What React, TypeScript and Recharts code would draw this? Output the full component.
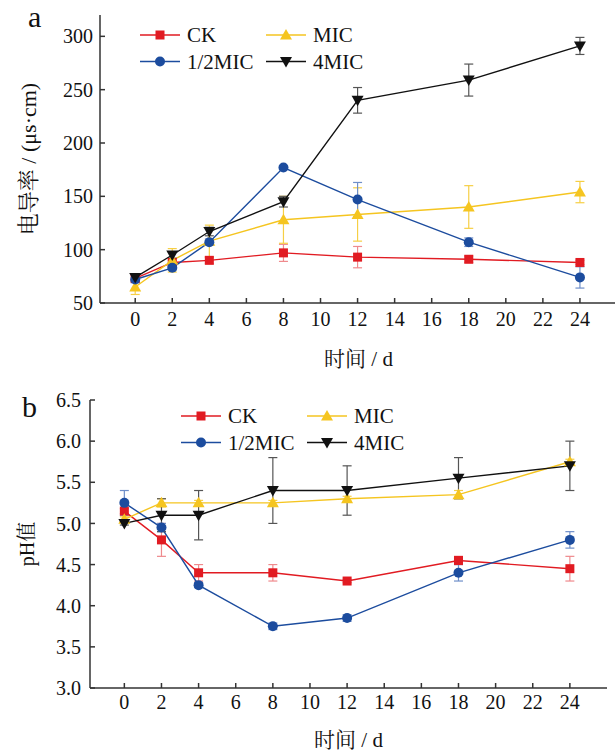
import React from 'react';
import { LineChart, Line, XAxis, YAxis, ErrorBar, Legend } from 'recharts';

const days = [0, 2, 4, 8, 12, 18, 24];
const xTicks = [0, 2, 4, 6, 8, 10, 12, 14, 16, 18, 20, 22, 24];

// Panel a: conductivity
const ecCK = [73, 88, 90, 97, 93, 91, 88];
const ecCKErr = [3, 2, 3, 8, 10, 3, 2];
const ecMIC = [65, 90, 108, 128, 133, 140, 154];
const ecMICErr = [7, 11, 15, 22, 25, 20, 10];
const ecHalf = [72, 83, 107, 177, 147, 107, 74];
const ecHalfErr = [3, 2, 3, 1, 16, 4, 10];
const ecFour = [74, 95, 117, 145, 240, 259, 291];
const ecFourErr = [3, 3, 4, 5, 12, 15, 8];
const ecTicks = [50, 100, 150, 200, 250, 300];

// Panel b: pH
const phCK = [5.15, 4.8, 4.4, 4.4, 4.3, 4.55, 4.45];
const phCKErr = [0.03, 0.2, 0.1, 0.1, 0.02, 0.05, 0.15];
const phMIC = [5.05, 5.25, 5.25, 5.25, 5.3, 5.35, 5.75];
const phMICErr = [0.03, 0.05, 0.03, 0.03, 0.03, 0.05, 0.03];
const phHalf = [5.25, 4.95, 4.25, 3.75, 3.85, 4.4, 4.8];
const phHalfErr = [0.15, 0.05, 0.03, 0.04, 0.04, 0.1, 0.1];
const phFour = [5.0, 5.1, 5.1, 5.4, 5.4, 5.55, 5.7];
const phFourErr = [0.02, 0.2, 0.3, 0.4, 0.3, 0.25, 0.3];
const phTicks = [3.0, 3.5, 4.0, 4.5, 5.0, 5.5, 6.0, 6.5];

const seriesNames = ['CK', 'MIC', '1/2MIC', '4MIC'];

const FONT = '"Liberation Serif", "Times New Roman", "Noto Serif CJK SC", "Noto Sans CJK SC", serif';
const AXIS = '#333';

type Shape = 'square' | 'circle' | 'up' | 'down';
const series: { key: string; name: string; color: string; err: string; shape: Shape }[] = [
  { key: 'ck', name: seriesNames[0], color: '#e11b22', err: '#ef8a8d', shape: 'square' },
  { key: 'mic', name: seriesNames[1], color: '#f5c520', err: '#f6cf45', shape: 'up' },
  { key: 'half', name: seriesNames[2], color: '#1c4c9e', err: '#6f8fc9', shape: 'circle' },
  { key: 'four', name: seriesNames[3], color: '#111111', err: '#555555', shape: 'down' },
];

const ecData = days.map((d, i) => ({
  day: d,
  ck: ecCK[i], ckErr: ecCKErr[i],
  mic: ecMIC[i], micErr: ecMICErr[i],
  half: ecHalf[i], halfErr: ecHalfErr[i],
  four: ecFour[i], fourErr: ecFourErr[i],
}));

const phData = days.map((d, i) => ({
  day: d,
  ck: phCK[i], ckErr: phCKErr[i],
  mic: phMIC[i], micErr: phMICErr[i],
  half: phHalf[i], halfErr: phHalfErr[i],
  four: phFour[i], fourErr: phFourErr[i],
}));

function Marker({ cx, cy, shape, fill }: { cx?: number; cy?: number; shape: Shape; fill: string }) {
  if (cx == null || cy == null) return null;
  switch (shape) {
    case 'square':
      return <rect x={cx - 4.5} y={cy - 4.5} width={9} height={9} fill={fill} />;
    case 'circle':
      return <circle cx={cx} cy={cy} r={5} fill={fill} />;
    case 'up':
      return <path d={`M${cx},${cy - 6}L${cx + 6},${cy + 4.5}L${cx - 6},${cy + 4.5}Z`} fill={fill} />;
    case 'down':
      return <path d={`M${cx - 6},${cy - 4.5}L${cx + 6},${cy - 4.5}L${cx},${cy + 6}Z`} fill={fill} />;
  }
  return null;
}

function LegendBox() {
  const pos = [
    { x: 0, y: 15 },
    { x: 126, y: 15 },
    { x: 0, y: 41.5 },
    { x: 126, y: 41.5 },
  ];
  return (
    <svg width={320} height={60} style={{ display: 'block', overflow: 'visible' }}>
      {series.map((s, i) => {
        const p = pos[i];
        return (
          <g key={s.key}>
            <line x1={p.x} y1={p.y} x2={p.x + 40} y2={p.y} stroke={s.color} strokeWidth={1.4} />
            <Marker cx={p.x + 20} cy={p.y} shape={s.shape} fill={s.color} />
            <text x={p.x + 47} y={p.y} dominantBaseline="central" fontFamily={FONT} fontSize={21} fill="#111">
              {s.name}
            </text>
          </g>
        );
      })}
    </svg>
  );
}

const tickStyle = { fontFamily: FONT, fontSize: 20, fill: '#111' };

function renderLines() {
  return series.map((s) => (
    <Line
      key={s.key}
      type="linear"
      dataKey={s.key}
      name={s.name}
      stroke={s.color}
      strokeWidth={1.4}
      isAnimationActive={false}
      dot={(p: any) => <Marker key={`${s.key}-${p.index}`} cx={p.cx} cy={p.cy} shape={s.shape} fill={s.color} />}
      activeDot={false}
    >
      <ErrorBar dataKey={`${s.key}Err`} width={4.5} stroke={s.err} strokeWidth={1.2} direction="y" isAnimationActive={false} />
    </Line>
  ));
}

export default function App() {
  return (
    <div style={{ position: 'absolute', left: 0, top: 0, width: 615, height: 754, overflow: 'hidden', background: '#fff' }}>
      <div style={{ position: 'absolute', left: 0, top: 0 }}>
        <LineChart width={620} height={380} data={ecData} margin={{ top: 15, right: 3, bottom: 0, left: 0 }}>
          <XAxis
            dataKey="day"
            type="number"
            domain={[-1.9, 26]}
            ticks={xTicks}
            allowDataOverflow
            height={77}
            stroke={AXIS}
            strokeWidth={1.5}
            tickSize={-5}
            tickMargin={14}
            tick={tickStyle}
            interval={0}
            label={{ value: '时间 / d', position: 'insideBottom', offset: 14, style: { fontFamily: FONT, fontSize: 21, fill: '#111' } }}
          />
          <YAxis
            type="number"
            domain={[50, 320]}
            ticks={ecTicks}
            allowDataOverflow
            width={100}
            stroke={AXIS}
            strokeWidth={1.5}
            tickSize={-5}
            tickMargin={12}
            tick={tickStyle}
            interval={0}
            label={{ value: '电导率 / (μs·cm)', angle: -90, position: 'center', dx: -22, style: { fontFamily: FONT, fontSize: 22, fill: '#111', textAnchor: 'middle' } }}
          />
          {renderLines()}
          <Legend
            layout="vertical"
            align="center"
            verticalAlign="middle"
            wrapperStyle={{ position: 'absolute', left: 140, top: 20, width: 320, height: 60, margin: 0, padding: 0 }}
            content={() => <LegendBox />}
          />
        </LineChart>
        <div style={{ position: 'absolute', left: 28, top: 2, fontFamily: FONT, fontSize: 30, lineHeight: '30px', color: '#111' }}>a</div>
      </div>
      <div style={{ position: 'absolute', left: 0, top: 380 }}>
        <LineChart width={620} height={374} data={phData} margin={{ top: 20, right: 13, bottom: 0, left: 0 }}>
          <XAxis
            dataKey="day"
            type="number"
            domain={[-1.85, 26]}
            ticks={xTicks}
            allowDataOverflow
            height={66}
            stroke={AXIS}
            strokeWidth={1.5}
            tickSize={-5}
            tickMargin={12}
            tick={tickStyle}
            interval={0}
            label={{ value: '时间 / d', position: 'insideBottom', offset: 7, style: { fontFamily: FONT, fontSize: 21, fill: '#111' } }}
          />
          <YAxis
            type="number"
            domain={[3, 6.5]}
            ticks={phTicks}
            allowDataOverflow
            width={90}
            stroke={AXIS}
            strokeWidth={1.5}
            tickSize={-5}
            tickMargin={14}
            tick={tickStyle}
            interval={0}
            tickFormatter={(v: number) => v.toFixed(1)}
            label={{ value: 'pH值', angle: -90, position: 'center', dx: -18, style: { fontFamily: FONT, fontSize: 20, fill: '#111', textAnchor: 'middle' } }}
          />
          {renderLines()}
          <Legend
            layout="vertical"
            align="center"
            verticalAlign="middle"
            wrapperStyle={{ position: 'absolute', left: 181, top: 21, width: 320, height: 60, margin: 0, padding: 0 }}
            content={() => <LegendBox />}
          />
        </LineChart>
        <div style={{ position: 'absolute', left: 22, top: 12, fontFamily: FONT, fontSize: 30, lineHeight: '30px', color: '#111' }}>b</div>
      </div>
    </div>
  );
}
